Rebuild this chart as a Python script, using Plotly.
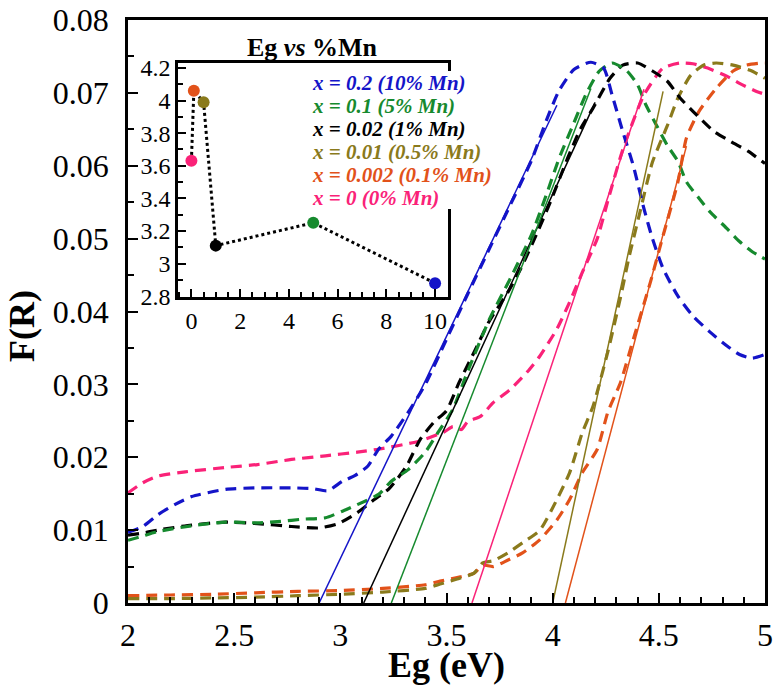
import plotly.graph_objects as go

# ---------------- data ----------------
x_pink = [2.0, 2.07, 2.14, 2.27, 2.46, 2.61, 2.77, 2.93, 3.08, 3.18, 3.37, 3.49, 3.53, 3.57, 3.6, 3.66, 3.72, 3.8, 3.88, 3.94, 4.02, 4.08, 4.14, 4.21, 4.26, 4.33, 4.43, 4.52, 4.6, 4.66, 4.73, 4.82, 4.88, 4.96, 5.0]
y_pink = [0.0151, 0.0165, 0.0174, 0.018, 0.0186, 0.019, 0.0197, 0.0202, 0.0207, 0.0211, 0.0222, 0.0235, 0.0242, 0.0238, 0.0249, 0.0256, 0.0275, 0.0293, 0.0317, 0.0339, 0.0376, 0.0413, 0.0454, 0.05, 0.0552, 0.0622, 0.0697, 0.0734, 0.0741, 0.0740, 0.0734, 0.0723, 0.0713, 0.0702, 0.0698]

x_blue = [2.0, 2.07, 2.14, 2.22, 2.3, 2.46, 2.61, 2.77, 2.87, 2.94, 3.01, 3.07, 3.13, 3.18, 3.24, 3.32, 3.4, 3.5, 3.6, 3.7, 3.8, 3.9, 3.97, 4.03, 4.1, 4.18, 4.24, 4.28, 4.33, 4.38, 4.43, 4.47, 4.52, 4.59, 4.66, 4.74, 4.82, 4.88, 4.94, 5.0]
y_blue = [0.0097, 0.0105, 0.0121, 0.0135, 0.0146, 0.0156, 0.0158, 0.0158, 0.0157, 0.0154, 0.0167, 0.0175, 0.0188, 0.0211, 0.0229, 0.0262, 0.0300, 0.0362, 0.0424, 0.0485, 0.0546, 0.0607, 0.0662, 0.0703, 0.0732, 0.0742, 0.0734, 0.0697, 0.0647, 0.0600, 0.0541, 0.0500, 0.0459, 0.0421, 0.0394, 0.0372, 0.0353, 0.0341, 0.0336, 0.0341]

x_black = [2.0, 2.07, 2.14, 2.3, 2.46, 2.61, 2.77, 2.9, 2.99, 3.08, 3.16, 3.23, 3.31, 3.375, 3.44, 3.5, 3.56, 3.63, 3.7, 3.79, 3.85, 3.93, 3.99, 4.07, 4.13, 4.19, 4.27, 4.33, 4.4, 4.47, 4.54, 4.6, 4.68, 4.76, 4.84, 4.92, 5.0]
y_black = [0.0093, 0.0096, 0.0100, 0.0107, 0.0111, 0.0109, 0.0105, 0.0103, 0.0109, 0.0124, 0.0142, 0.0157, 0.0187, 0.0224, 0.0248, 0.0264, 0.0303, 0.0344, 0.0386, 0.0427, 0.0459, 0.0510, 0.0551, 0.0610, 0.0650, 0.0679, 0.0720, 0.0738, 0.0741, 0.0730, 0.0716, 0.0693, 0.0669, 0.0647, 0.0633, 0.0620, 0.0603]

x_green = [2.0, 2.07, 2.14, 2.3, 2.46, 2.61, 2.72, 2.82, 2.93, 3.01, 3.08, 3.18, 3.24, 3.32, 3.4, 3.46, 3.53, 3.6, 3.7, 3.8, 3.9, 3.97, 4.03, 4.09, 4.16, 4.22, 4.28, 4.35, 4.4, 4.44, 4.49, 4.54, 4.59, 4.63, 4.69, 4.74, 4.82, 4.88, 4.94, 5.0]
y_green = [0.0086, 0.0092, 0.0098, 0.0106, 0.0111, 0.0110, 0.0112, 0.0115, 0.0117, 0.0126, 0.0135, 0.0149, 0.0167, 0.0183, 0.0207, 0.0234, 0.0266, 0.0318, 0.0388, 0.0445, 0.0505, 0.0560, 0.0610, 0.0652, 0.0700, 0.0730, 0.0741, 0.0730, 0.0711, 0.0683, 0.0655, 0.0628, 0.0606, 0.0578, 0.0555, 0.0537, 0.0514, 0.0496, 0.0482, 0.0472]

x_olive = [2.0, 2.2, 2.4, 2.6, 2.8, 3.0, 3.2, 3.4, 3.47, 3.55, 3.63, 3.67, 3.72, 3.79, 3.86, 3.94, 4.02, 4.08, 4.14, 4.19, 4.26, 4.32, 4.36, 4.41, 4.47, 4.54, 4.59, 4.65, 4.71, 4.77, 4.85, 4.93, 5.0]
y_olive = [0.0006, 0.0006, 0.0007, 0.0008, 0.0010, 0.0012, 0.0015, 0.0020, 0.0026, 0.0033, 0.0041, 0.0055, 0.0058, 0.0069, 0.0083, 0.0100, 0.0142, 0.0179, 0.0234, 0.0270, 0.0345, 0.0420, 0.0475, 0.0535, 0.0605, 0.0655, 0.0693, 0.0724, 0.0738, 0.0741, 0.0738, 0.0731, 0.0720]

x_orange = [2.0, 2.2, 2.4, 2.6, 2.8, 3.0, 3.2, 3.4, 3.47, 3.55, 3.63, 3.67, 3.72, 3.79, 3.86, 3.94, 4.02, 4.08, 4.14, 4.21, 4.26, 4.32, 4.38, 4.46, 4.52, 4.59, 4.63, 4.69, 4.77, 4.85, 4.91, 4.98, 5.0]
y_orange = [0.0010, 0.0011, 0.0012, 0.0014, 0.0016, 0.0017, 0.0020, 0.0025, 0.0030, 0.0035, 0.0041, 0.0052, 0.0050, 0.0059, 0.0069, 0.0087, 0.0114, 0.0142, 0.0179, 0.0211, 0.0262, 0.0303, 0.0362, 0.0440, 0.0504, 0.0578, 0.0638, 0.0675, 0.0706, 0.0730, 0.0738, 0.0741, 0.0741]

# linear (Tauc-type) fits: x at F(R)=0 and end point
fit_blue_x, fit_blue_y = [2.90, 4.02], [0.0, 0.0683]
fit_black_x, fit_black_y = [3.11, 4.20], [0.0, 0.0687]
fit_green_x, fit_green_y = [3.24, 4.18], [0.0, 0.0706]
fit_pink_x, fit_pink_y = [3.62, 4.43], [0.0, 0.0705]
fit_olive_x, fit_olive_y = [4.00, 4.52], [0.0, 0.0702]
fit_orange_x, fit_orange_y = [4.06, 4.63], [0.0, 0.0627]

# inset: band gap vs Mn %
mn_pct = [0, 0.1, 0.5, 1, 5, 10]
eg_vals = [3.63, 4.06, 3.99, 3.11, 3.25, 2.88]

legend_labels = ["x = 0.2 (10% Mn)", "x = 0.1 (5% Mn)", "x = 0.02 (1% Mn)",
                 "x = 0.01 (0.5% Mn)", "x = 0.002 (0.1% Mn)", "x = 0 (0% Mn)"]

# ---------------- styles ----------------
C_BLUE = "#1414c8"
C_GREEN = "#168a2e"
C_BLACK = "#000000"
C_OLIVE = "#8a7a1c"
C_ORANGE = "#e2521a"
C_PINK = "#fa2278"
legend_colors = [C_BLUE, C_GREEN, C_BLACK, C_OLIVE, C_ORANGE, C_PINK]
inset_colors = [C_PINK, C_ORANGE, C_OLIVE, C_BLACK, C_GREEN, C_BLUE]

FONT = "Liberation Serif"
W, H = 775, 688
ML, MR, MT, MB = 128, 10, 20, 85
PW, PH = W - ML - MR, H - MT - MB


def px(xp):
    return (xp - ML) / PW


def py(yp):
    return (H - MB - yp) / PH


fig = go.Figure()

curves = [
    (x_pink, y_pink, C_PINK), (x_orange, y_orange, C_ORANGE), (x_olive, y_olive, C_OLIVE),
    (x_black, y_black, C_BLACK), (x_green, y_green, C_GREEN), (x_blue, y_blue, C_BLUE),
]
for xs, ys, c in curves:
    fig.add_trace(go.Scatter(x=xs, y=ys, mode="lines",
                             line=dict(color=c, width=3.2, dash="11px,7px", shape="spline", smoothing=0.6),
                             showlegend=False, hoverinfo="skip"))

fits = [
    (fit_blue_x, fit_blue_y, C_BLUE), (fit_black_x, fit_black_y, C_BLACK), (fit_green_x, fit_green_y, C_GREEN),
    (fit_pink_x, fit_pink_y, C_PINK), (fit_olive_x, fit_olive_y, C_OLIVE), (fit_orange_x, fit_orange_y, C_ORANGE),
]
for xs, ys, c in fits:
    fig.add_trace(go.Scatter(x=xs, y=ys, mode="lines", line=dict(color=c, width=1.5),
                             showlegend=False, hoverinfo="skip"))

# inset
fig.add_trace(go.Scatter(x=mn_pct, y=eg_vals, mode="lines", line=dict(color="black", width=3, dash="dot"),
                         xaxis="x2", yaxis="y2", showlegend=False, hoverinfo="skip"))
fig.add_trace(go.Scatter(x=mn_pct, y=eg_vals, mode="markers", marker=dict(color=inset_colors, size=12),
                         xaxis="x2", yaxis="y2", showlegend=False, cliponaxis=False, hoverinfo="skip"))

axis_common = dict(showline=True, linecolor="black", mirror=True, ticks="inside",
                   tickcolor="black", showgrid=False, zeroline=False, automargin=False)

fig.update_layout(
    width=W, height=H,
    margin=dict(l=ML, r=MR, t=MT, b=MB, autoexpand=False),
    paper_bgcolor="white", plot_bgcolor="white",
    font=dict(family=FONT, color="black"),
    xaxis=dict(range=[2, 5], dtick=0.5, tick0=2, linewidth=2.5, ticklen=10, tickwidth=2,
               tickfont=dict(size=32, family=FONT, color="black"), ticklabelstandoff=2,
               minor=dict(dtick=0.1, ticklen=6, tickwidth=1.5, ticks="inside", tickcolor="black"),
               domain=[0, 1], **axis_common),
    yaxis=dict(range=[0, 0.08], dtick=0.01, linewidth=2.5, ticklen=10, tickwidth=2,
               tickfont=dict(size=32, family=FONT, color="black"), tickformat="~g", ticklabelstandoff=10,
               minor=dict(dtick=0.005, ticklen=6, tickwidth=1.5, ticks="inside", tickcolor="black"),
               domain=[0, 1], **axis_common),
    xaxis2=dict(range=[-0.55, 10.53], dtick=2, tick0=0, linewidth=2.5, ticklen=8, tickwidth=2,
                tickfont=dict(size=24, family=FONT, color="black"),
                minor=dict(dtick=0.5, ticklen=5, tickwidth=1.5, ticks="inside", tickcolor="black"),
                domain=[px(178), px(448)], anchor="y2", **axis_common),
    yaxis2=dict(range=[2.795, 4.23], dtick=0.2, tick0=2.8, linewidth=2.5, ticklen=8, tickwidth=2,
                tickfont=dict(size=24, family=FONT, color="black"), tickformat="~g",
                minor=dict(dtick=0.1, ticklen=5, tickwidth=1.5, ticks="inside", tickcolor="black"),
                domain=[py(297), py(63)], anchor="x2", **axis_common),
)

# axis titles
fig.add_annotation(xref="paper", yref="paper", x=px(446), y=py(665), text="<b>Eg (eV)</b>",
                   showarrow=False, font=dict(size=36, family=FONT, color="black"),
                   xanchor="center", yanchor="middle")
fig.add_annotation(xref="paper", yref="paper", x=px(22), y=py(326), text="<b>F(R)</b>", textangle=-90,
                   showarrow=False, font=dict(size=36, family=FONT, color="black"),
                   xanchor="center", yanchor="middle")

# white patch that interrupts the inset's right border behind the legend text
fig.add_shape(type="rect", xref="paper", yref="paper", x0=px(441), x1=px(456), y0=py(209), y1=py(71),
              fillcolor="white", line=dict(width=0), layer="above")

# inset title
fig.add_annotation(xref="paper", yref="paper", x=px(312), y=py(47), text="<b>Eg <i>vs</i> %Mn</b>",
                   showarrow=False, font=dict(size=26, family=FONT, color="black"), xanchor="center", yanchor="middle")

# colour-coded legend text
for i, (lab, col) in enumerate(zip(legend_labels, legend_colors)):
    fig.add_annotation(xref="paper", yref="paper", x=px(310), y=py(83 + 23 * i),
                       text=f"<b><i>{lab}</i></b>", showarrow=False,
                       font=dict(size=21, family=FONT, color=col), xanchor="left", yanchor="middle")

fig.write_html("out.html", config={"displayModeBar": False},
               post_script="document.body.style.margin='0px';document.body.style.overflow='hidden';")
